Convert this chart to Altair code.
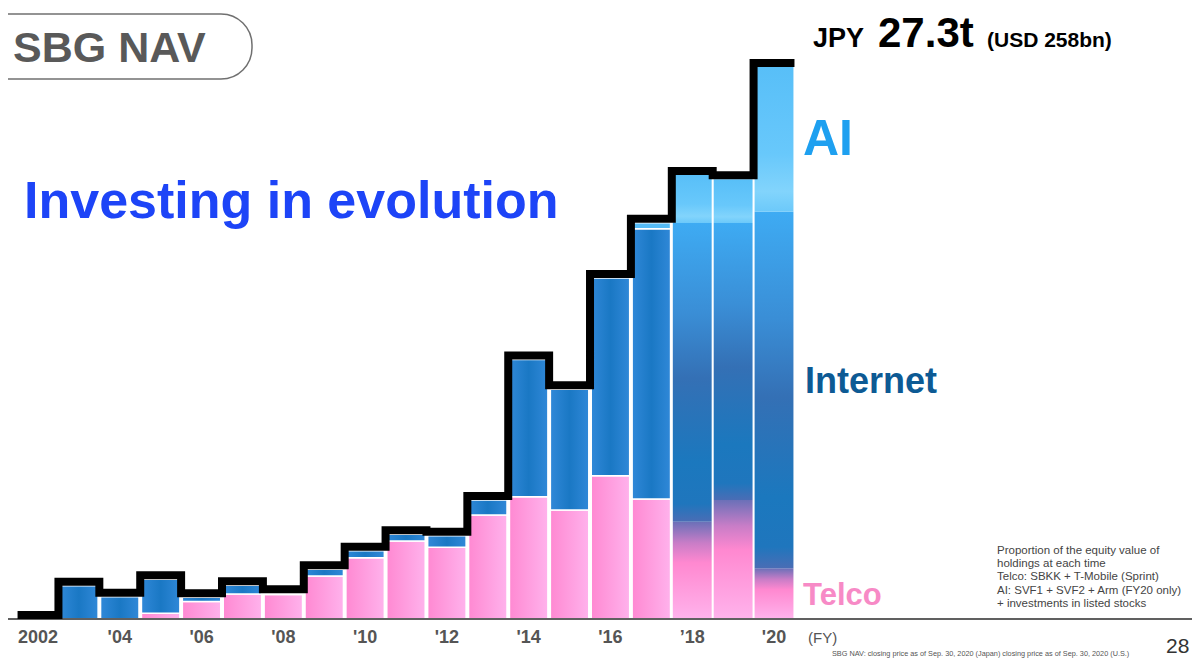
import altair as alt
import pandas as pd

# ---- data (trillion JPY) ----
years = list(range(2002, 2021))
telco = [0, 0, 0, 0.28, 0.86, 1.24, 1.21, 2.13, 3.03, 3.86, 3.55, 5.14, 6.05, 5.39, 7.09, 5.93, 4.81, 5.89, 2.51]
internet = [0, 1.65, 1.10, 1.68, 0.21, 0.43, 0.06, 0.33, 0.35, 0.33, 0.57, 0.75, 6.79, 5.97, 9.77, 13.37, 14.78, 13.70, 17.63]
ai = [0, 0, 0, 0, 0, 0, 0, 0, 0, 0, 0, 0, 0, 0, 0, 0.30, 2.37, 2.16, 7.16]
label_years = [2002, 2004, 2006, 2008, 2010, 2012, 2014, 2016, 2018, 2020]
label_texts = ["2002", "'04", "'06", "'08", "'10", "'12", "'14", "'16", "\u201918", "'20"]
notes = [
    "Proportion of the equity value of",
    "holdings at each time",
    "Telco: SBKK + T-Mobile (Sprint)",
    "AI: SVF1 + SVF2 + Arm (FY20 only)",
    "+ investments in listed stocks",
]

# ---- derived tables ----
rows = []
for y, t, i, a in zip(years, telco, internet, ai):
    era = "early" if y <= 2017 else "late"
    lo = 0.0
    for seg, v in (("Telco", t), ("Internet", i), ("AI", a)):
        if v > 0:
            rows.append({"year": y, "seg": seg, "era": era, "lo": lo, "hi": lo + v})
        lo += v
segs = pd.DataFrame(rows)

totals = [t + i + a for t, i, a in zip(telco, internet, ai)]
step = pd.DataFrame({"x": [y - 0.5 for y in years] + [years[-1] + 0.5],
                     "v": totals + [totals[-1]]})
labs = pd.DataFrame({"year": label_years, "label": label_texts})
one = pd.DataFrame({"k": [0]})

FONT = "Liberation Sans, Arial, Helvetica, sans-serif"
W, H = 1184, 651
xs = alt.Scale(domain=[2001.2663, 2030.222], nice=False, zero=False)
ys = alt.Scale(domain=[-1.978, 30.218], nice=False, zero=False)


def grad(stops, vertical):
    return alt.LinearGradient(
        gradient="linear",
        stops=[alt.GradientStop(offset=o, color=c) for o, c in stops],
        x1=0, y1=0, x2=0 if vertical else 1, y2=1 if vertical else 0,
    )


def bars(seg, era, fill, half, stroke=True):
    kw = dict(fill=fill)
    if stroke:
        kw.update(stroke="white", strokeWidth=1.5)
    return (
        alt.Chart(segs)
        .transform_filter((alt.datum.seg == seg) & (alt.datum.era == era))
        .transform_calculate(x0=f"datum.year - {half}", x1=f"datum.year + {half}")
        .mark_rect(**kw)
        .encode(
            x=alt.X("x0:Q", scale=xs, axis=None),
            x2="x1:Q",
            y=alt.Y("lo:Q", scale=ys, axis=None),
            y2="hi:Q",
        )
    )


pink_early = grad([(0, "#ff89d2"), (1, "#ffb2ec")], False)
blue_early = grad([(0, "#3088d8"), (0.5, "#1a78c4"), (1, "#3088d8")], False)
ai_early = "#55bbf6"
pink_late = grad([(0, "#6a70b8"), (0.22, "#c97dc7"), (0.42, "#ff88d0"), (1, "#ffb3ec")], True)
blue_late = grad([(0, "#3eabf3"), (0.3, "#3a8ed6"), (0.52, "#3470b5"), (0.8, "#1b78be"),
                  (0.94, "#1f76bd"), (1, "#4a6db5")], True)
ai_late = grad([(0, "#58bff8"), (0.6, "#68c8fb"), (0.86, "#82d4fc"), (1, "#6cc9fa")], True)

layers = [
    # title box
    alt.Chart(one).mark_rect(fill="white", stroke="#707070", strokeWidth=1.5, cornerRadius=31).encode(
        x=alt.value(-40), x2=alt.value(244), y=alt.value(6), y2=alt.value(71)),
    alt.Chart(one).mark_text(text="SBG NAV", font=FONT, fontSize=43, fontWeight="bold", color="#595959",
                             align="left", baseline="alphabetic").encode(x=alt.value(5), y=alt.value(54)),
    bars("Telco", "early", pink_early, 0.47),
    bars("Internet", "early", blue_early, 0.47),
    bars("AI", "early", ai_early, 0.47),
    bars("Telco", "late", pink_late, 0.475, stroke=False),
    bars("Internet", "late", blue_late, 0.475, stroke=False),
    bars("AI", "late", ai_late, 0.475, stroke=False),
    # baseline
    alt.Chart(one).mark_rule(color="#606060", strokeWidth=2).encode(
        x=alt.value(0), x2=alt.value(W), y=alt.Y("datum_zero:Q", scale=ys, axis=None)
    ).transform_calculate(datum_zero="0"),
    # NAV outline
    alt.Chart(step).mark_line(interpolate="step-after", color="black", strokeWidth=8, yOffset=-4,
                              strokeJoin="miter", strokeCap="butt").encode(
        x=alt.X("x:Q", scale=xs, axis=None), y=alt.Y("v:Q", scale=ys, axis=None)),
    # x labels
    alt.Chart(labs).mark_text(font=FONT, fontSize=18, fontWeight="bold", color="#555555",
                              baseline="middle").encode(
        x=alt.X("year:Q", scale=xs, axis=None), y=alt.value(630), text="label:N"),
    alt.Chart(one).mark_text(text="(FY)", font=FONT, fontSize=15, color="#555555", align="left",
                             baseline="middle").encode(x=alt.value(800), y=alt.value(630)),
    # headline numbers
    alt.Chart(one).mark_text(text="JPY", font=FONT, fontSize=27, fontWeight="bold", color="black",
                             align="left", baseline="alphabetic").encode(x=alt.value(805), y=alt.value(39)),
    alt.Chart(one).mark_text(text="27.3t", font=FONT, fontSize=42, fontWeight="bold", color="black",
                             align="left", baseline="alphabetic").encode(x=alt.value(870), y=alt.value(39)),
    alt.Chart(one).mark_text(text="(USD 258bn)", font=FONT, fontSize=21, fontWeight="bold", color="black",
                             align="left", baseline="alphabetic").encode(x=alt.value(979), y=alt.value(39)),
    alt.Chart(one).mark_text(text="Investing in evolution", font=FONT, fontSize=52, fontWeight="bold",
                             color="#1d44f7", align="left", baseline="alphabetic").encode(
        x=alt.value(16), y=alt.value(210)),
    # category labels
    alt.Chart(one).mark_text(text="AI", font=FONT, fontSize=50, fontWeight="bold", color="#1ea0f0",
                             align="left", baseline="alphabetic").encode(x=alt.value(795), y=alt.value(147)),
    alt.Chart(one).mark_text(text="Internet", font=FONT, fontSize=36, fontWeight="bold", color="#0d5a94",
                             align="left", baseline="alphabetic").encode(x=alt.value(797), y=alt.value(385)),
    alt.Chart(one).mark_text(text="Telco", font=FONT, fontSize=31, fontWeight="bold", color="#f78ac6",
                             align="left", baseline="alphabetic").encode(x=alt.value(795), y=alt.value(597)),
    # notes
    alt.Chart(one).mark_text(text=notes, font=FONT, fontSize=11.5, color="#444444", align="left",
                             baseline="top", lineHeight=13.2).encode(x=alt.value(989), y=alt.value(537)),
    alt.Chart(one).mark_text(text="28", font=FONT, fontSize=21, color="#333333", align="left",
                             baseline="middle").encode(x=alt.value(1158), y=alt.value(639)),
    alt.Chart(one).mark_text(text="SBG NAV: closing price as of Sep. 30, 2020 (Japan) closing price as of Sep. 30, 2020 (U.S.)",
                             font=FONT, fontSize=7.3, color="#555555", align="left",
                             baseline="bottom").encode(x=alt.value(824), y=alt.value(650)),
]

chart = (
    alt.layer(*layers)
    .properties(width=W, height=H, padding=0, autosize="none", background="white")
    .configure_view(stroke=None)
)

chart.save("out.html", embed_options={"renderer": "svg", "actions": False})
